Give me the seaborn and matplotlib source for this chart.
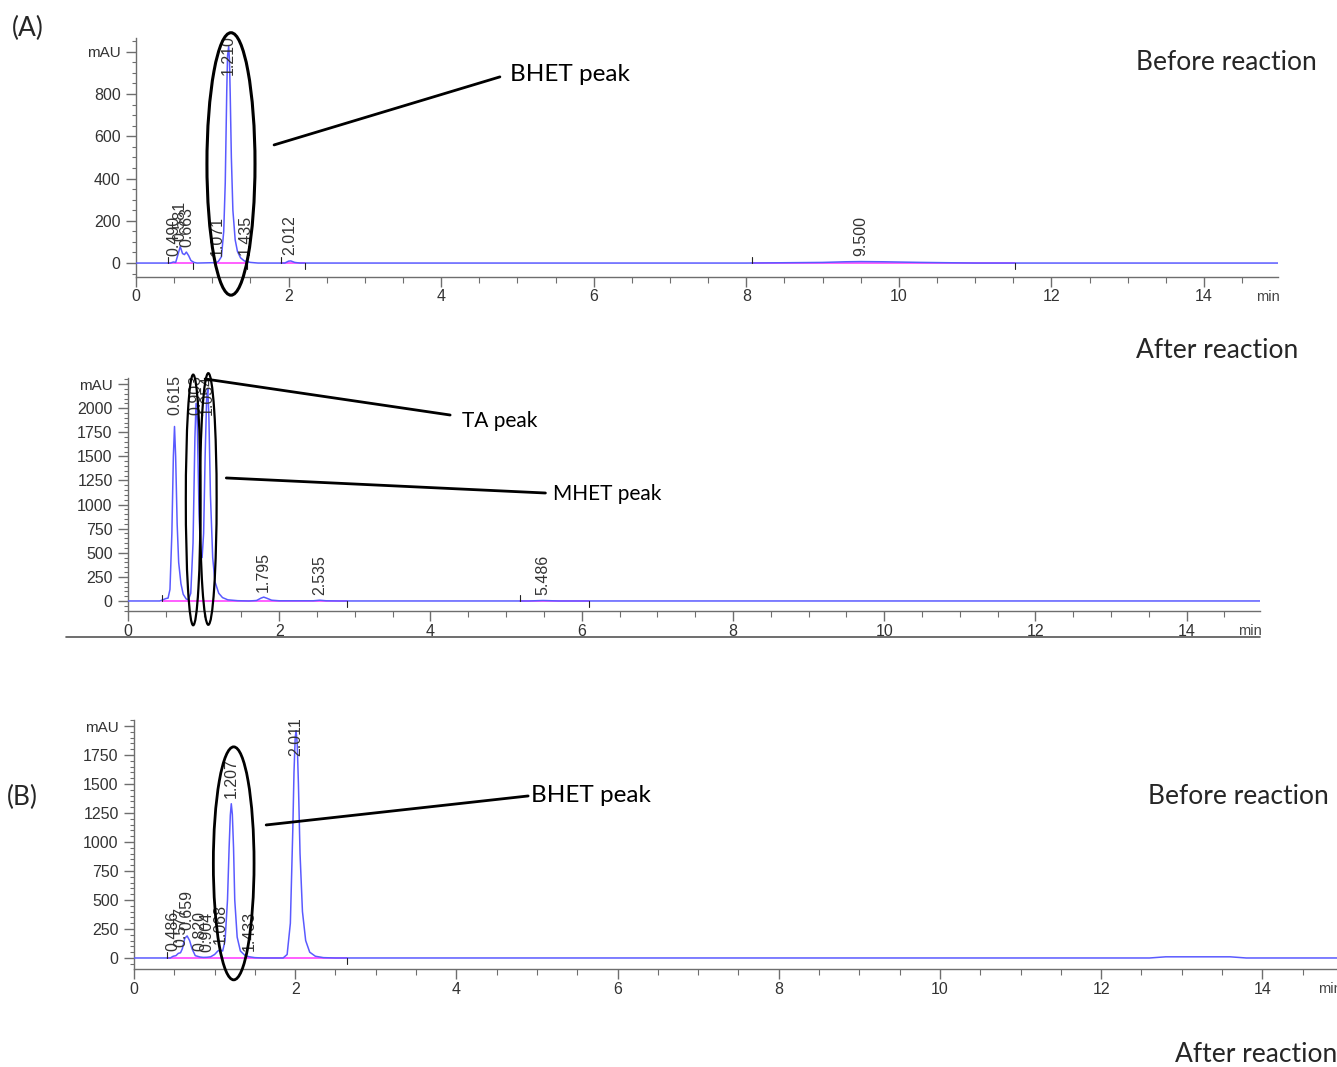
import numpy as np
import pandas as pd
import matplotlib
matplotlib.use("Agg")
import matplotlib.pyplot as plt
import seaborn as sns
from matplotlib.patches import Ellipse
from matplotlib.lines import Line2D
from matplotlib.ticker import MultipleLocator

# ---------------- data ----------------
# Panel 1: (A) before reaction
p1_time = [0.0, 0.45, 0.49, 0.52, 0.55, 0.58, 0.61, 0.635, 0.66, 0.69, 0.72, 0.76, 0.80,
           1.05, 1.08, 1.12, 1.15, 1.17, 1.18, 1.19, 1.20, 1.215, 1.225, 1.235, 1.25, 1.27,
           1.30, 1.33, 1.37, 1.42, 1.50, 1.60, 1.95, 2.00, 2.03, 2.08, 2.15, 8.0, 9.0, 9.3,
           9.5, 9.8, 10.3, 11.0, 15.0]
p1_signal = [0, 0, 5, 3, 40, 78, 45, 40, 52, 35, 12, 3, 0,
             2, 8, 30, 150, 380, 600, 820, 980, 1025, 960, 800, 500, 250,
             110, 55, 25, 10, 3, 0, 0, 9, 10, 3, 0, 0, 3, 6,
             7, 6, 3, 0, 0]
p1_rt = [0.490, 0.581, 0.663, 1.071, 1.210, 1.435, 2.012, 9.500]
p1_height = [5, 78, 52, 8, 1025, 10, 10, 7]
p1_rt_labels = ["0.490", "0.581", "0.663", "1.071", "1.210", "1.435", "2.012", "9.500"]
p1_base_start = [0.42, 1.02, 1.90, 8.07]
p1_base_end = [0.75, 1.45, 2.21, 11.52]
p1_yticks = [0, 200, 400, 600, 800, 1000]
p1_yticklabels = ["0", "200", "400", "600", "800", "mAU"]

# Panel 2: (A) after reaction
p2_time = [0.0, 0.42, 0.47, 0.50, 0.53, 0.555, 0.58, 0.60, 0.615, 0.63, 0.65, 0.67, 0.70,
           0.73, 0.77, 0.80, 0.83, 0.86, 0.885, 0.90, 0.915, 0.94, 0.96, 0.98, 1.00, 1.02,
           1.04, 1.055, 1.07, 1.09, 1.12, 1.15, 1.20, 1.25, 1.32, 1.45, 1.60, 1.70, 1.76,
           1.795, 1.83, 1.90, 2.00, 2.45, 2.535, 2.62, 2.80, 5.30, 5.486, 5.70, 15.0]
p2_signal = [0, 0, 15, 25, 30, 120, 700, 1500, 1810, 1500, 800, 400, 180,
             70, 20, 15, 80, 600, 1700, 2050, 1900, 900, 500, 450, 700, 1500,
             2100, 2200, 1900, 1100, 450, 200, 80, 35, 12, 3, 0, 5, 30,
             40, 30, 8, 2, 2, 8, 2, 0, 0, 5, 0, 0]
p2_rt = [0.615, 0.903, 1.054, 1.795, 2.535, 5.486]
p2_height = [1810, 2050, 2200, 40, 8, 5]
p2_rt_labels = ["0.615", "0.903", "1.054", "1.795", "2.535", "5.486"]
p2_base_start = [0.45, 5.19]
p2_base_end = [2.90, 6.10]
p2_yticks = [0, 250, 500, 750, 1000, 1250, 1500, 1750, 2000, 2250]
p2_yticklabels = ["0", "250", "500", "750", "1000", "1250", "1500", "1750", "2000", "mAU"]

# Panel 3: (B) before reaction
p3_time = [0.0, 0.45, 0.486, 0.52, 0.55, 0.577, 0.60, 0.63, 0.659, 0.69, 0.72, 0.76, 0.82,
           0.86, 0.904, 0.95, 1.00, 1.04, 1.068, 1.10, 1.13, 1.16, 1.18, 1.195, 1.207, 1.22,
           1.235, 1.25, 1.28, 1.32, 1.38, 1.433, 1.50, 1.60, 1.85, 1.90, 1.94, 1.97, 1.985,
           2.00, 2.011, 2.025, 2.04, 2.06, 2.09, 2.13, 2.18, 2.25, 2.35, 2.50, 12.6, 12.8,
           13.6, 13.8, 15.0]
p3_signal = [0, 0, 15, 20, 40, 45, 80, 170, 190, 150, 80, 20, 8,
             5, 6, 10, 30, 60, 70, 60, 150, 500, 950, 1230, 1330, 1240,
             950, 500, 180, 60, 20, 10, 3, 0, 0, 30, 300, 1100, 1600,
             1900, 1960, 1850, 1500, 900, 400, 150, 50, 15, 3, 0, 0, 10,
             10, 0, 0]
p3_rt = [0.486, 0.577, 0.659, 0.820, 0.904, 1.068, 1.207, 1.433, 2.011]
p3_height = [15, 45, 190, 8, 6, 70, 1330, 10, 1960]
p3_rt_labels = ["0.486", "0.577", "0.659", "0.820", "0.904", "1.068", "1.207", "1.433", "2.011"]
p3_base_start = [0.41]
p3_base_end = [2.64]
p3_yticks = [0, 250, 500, 750, 1000, 1250, 1500, 1750, 2000]
p3_yticklabels = ["0", "250", "500", "750", "1000", "1250", "1500", "1750", "mAU"]

x_ticks = [0, 2, 4, 6, 8, 10, 12, 14]

# ---------------- styling ----------------
sns.set_theme(style="white")
plt.rcParams['font.family'] = ['Liberation Sans', 'DejaVu Sans']

W, H = 1337, 1067
fig = plt.figure(figsize=(W / 100, H / 100), dpi=100)

TRACE = "#5a5aff"
BASE = "#ff44ff"
AXC = "#6e6e6e"
TXT = "#333333"
ANN_FONT = ['Lato', 'DejaVu Sans']


def px_rect(left, top, right, bottom):
    return [left / W, 1 - bottom / H, (right - left) / W, (bottom - top) / H]


def make_panel(rect, xmax, ylim, t, s, rts, hts, labs, bstart, bend, yt, ytl):
    ax = fig.add_axes(rect)
    ax.set_facecolor("none")
    df = pd.DataFrame({"time": t, "signal": s})
    # integration baselines
    for a, b in zip(bstart, bend):
        ax.plot([a, b], [0, 0], color=BASE, lw=1.2, zorder=2)
    sns.lineplot(data=df, x="time", y="signal", ax=ax, color=TRACE, lw=1.1,
                 estimator=None, sort=False, zorder=3)
    ax.set_xlim(0, xmax)
    ax.set_ylim(*ylim)
    ax.set_xlabel("")
    ax.set_ylabel("")
    pxy = rect[3] * H / (ylim[1] - ylim[0])
    # integration event ticks
    for a in bstart:
        ax.plot([a, a], [0, 6 / pxy], color="#222222", lw=0.8, zorder=4)
    for b in bend:
        ax.plot([b, b], [0, -6 / pxy], color="#222222", lw=0.8, zorder=4)
    # retention-time labels
    for rt, h, lab in zip(rts, hts, labs):
        if h + 50 / pxy > ylim[1]:
            ax.annotate(lab, xy=(rt, ylim[1]), xytext=(0, 2), textcoords="offset points",
                        rotation=90, ha="center", va="top", fontsize=11.5, color=TXT,
                        annotation_clip=False, zorder=5)
        else:
            ax.annotate(lab, xy=(rt, h), xytext=(0, 4), textcoords="offset points",
                        rotation=90, ha="center", va="bottom", fontsize=11.5, color=TXT,
                        zorder=5)
    for sp in ["top", "right"]:
        ax.spines[sp].set_visible(False)
    for sp in ["left", "bottom"]:
        ax.spines[sp].set_color(AXC)
        ax.spines[sp].set_linewidth(1.0)
    ax.set_yticks(yt)
    ax.set_yticklabels(ytl)
    ax.yaxis.set_minor_locator(MultipleLocator(50))
    ax.set_xticks(x_ticks)
    ax.set_xticklabels([str(v) for v in x_ticks])
    ax.xaxis.set_minor_locator(MultipleLocator(0.5))
    ax.tick_params(axis="y", which="major", length=7, width=1, color=AXC, pad=4,
                   labelsize=11.5, labelcolor=TXT, left=True)
    ax.tick_params(axis="y", which="minor", length=3, width=0.8, color=AXC, left=True)
    ax.tick_params(axis="x", which="major", length=7, width=1, color=AXC, pad=2,
                   labelsize=11.5, labelcolor=TXT, bottom=True)
    ax.tick_params(axis="x", which="minor", length=4, width=0.8, color=AXC, bottom=True)
    for lbl in ax.get_yticklabels():
        if lbl.get_text() == "mAU":
            lbl.set_fontsize(11)
    ax.annotate("min", xy=(14.84, 0), xycoords=("data", "axes fraction"),
                xytext=(0, -9.5), textcoords="offset points", ha="center", va="top",
                fontsize=10.5, color="#444444", annotation_clip=False)
    ax.grid(False)
    return ax


ax1 = make_panel(px_rect(136, 38, 1278, 277), 14.97, (-66, 1065),
                 p1_time, p1_signal, p1_rt, p1_height, p1_rt_labels,
                 p1_base_start, p1_base_end, p1_yticks, p1_yticklabels)
ax2 = make_panel(px_rect(128, 378, 1260, 611), 14.97, (-104, 2313),
                 p2_time, p2_signal, p2_rt, p2_height, p2_rt_labels,
                 p2_base_start, p2_base_end, p2_yticks, p2_yticklabels)
ax3 = make_panel(px_rect(134, 720, 1343, 969), 15.0, (-95, 2052),
                 p3_time, p3_signal, p3_rt, p3_height, p3_rt_labels,
                 p3_base_start, p3_base_end, p3_yticks, p3_yticklabels)

# ---------------- annotations ----------------
ax1.add_patch(Ellipse((1.245, 469), 0.63, 1242, fill=False, ec="black", lw=2.2,
                      clip_on=False, zorder=6))
ax1.plot([1.81, 4.77], [559, 881], color="black", lw=2, clip_on=False, zorder=6)
ax1.text(4.90, 891, "BHET peak", fontsize=17.5, family=ANN_FONT, ha="left", va="center",
         color="black")

ax2.add_patch(Ellipse((0.862, 1048), 0.195, 2600, fill=False, ec="black", lw=1.6,
                      clip_on=False, zorder=6))
ax2.add_patch(Ellipse((1.062, 1058), 0.22, 2610, fill=False, ec="black", lw=1.6,
                      clip_on=False, zorder=6))
ax2.plot([1.02, 4.26], [2303, 1929], color="black", lw=2, clip_on=False, zorder=6)
ax2.text(4.42, 1867, "TA peak", fontsize=15, family=ANN_FONT, ha="left", va="center",
         color="black")
ax2.plot([1.30, 5.52], [1276, 1120], color="black", lw=2, clip_on=False, zorder=6)
ax2.text(5.62, 1110, "MHET peak", fontsize=15, family=ANN_FONT, ha="left", va="center",
         color="black")

ax3.add_patch(Ellipse((1.237, 816), 0.505, 2009, fill=False, ec="black", lw=2,
                      clip_on=False, zorder=6))
ax3.plot([1.64, 4.89], [1147, 1397], color="black", lw=2, clip_on=False, zorder=6)
ax3.text(4.93, 1397, "BHET peak", fontsize=17.5, family=ANN_FONT, ha="left", va="center",
         color="black")

fig.add_artist(Line2D([66 / W, 1260 / W], [1 - 637 / H, 1 - 637 / H], color="#555555",
                      lw=1.2))

fig.text(28 / W, 1 - 28 / H, "(A)", fontsize=19, family=ANN_FONT, ha="center", va="center")
fig.text(22 / W, 1 - 797 / H, "(B)", fontsize=19, family=ANN_FONT, ha="center", va="center")
fig.text(1136 / W, 1 - 63 / H, "Before reaction", fontsize=19, family=ANN_FONT, ha="left",
         va="center")
fig.text(1136 / W, 1 - 350 / H, "After reaction", fontsize=19, family=ANN_FONT, ha="left",
         va="center")
fig.text(1148 / W, 1 - 796 / H, "Before reaction", fontsize=19, family=ANN_FONT, ha="left",
         va="center")
fig.text(1175 / W, 1 - 1054 / H, "After reaction", fontsize=19, family=ANN_FONT, ha="left",
         va="center")

fig.savefig("out.png", dpi=100)
